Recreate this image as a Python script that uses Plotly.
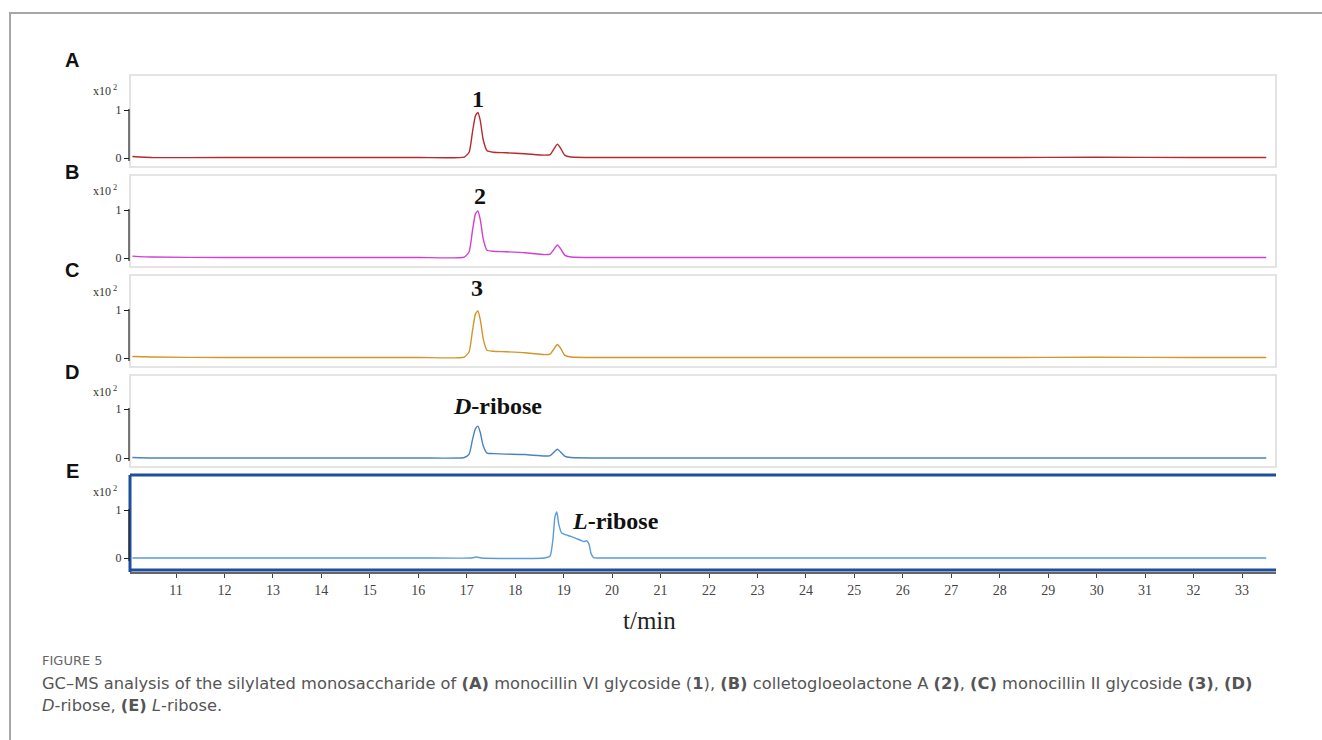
import plotly.graph_objects as go

W, H = 1322, 740

# ---------------- data (time in min, intensity in x10^2 counts) ----------------
t_A = [10.1, 10.5, 12, 14, 16, 16.95, 17.05, 17.12, 17.18, 17.23, 17.28, 17.34, 17.42, 17.55, 17.8, 18.2,
       18.6, 18.72, 18.8, 18.87, 18.94, 19.02, 19.15, 20, 22, 25, 28, 30, 32, 33.5]
i_A = [0.03, 0.01, 0.01, 0.01, 0.01, 0.02, 0.12, 0.55, 0.88, 0.95, 0.78, 0.38, 0.15, 0.12, 0.11, 0.09,
       0.06, 0.07, 0.19, 0.29, 0.2, 0.06, 0.02, 0.01, 0.01, 0.01, 0.01, 0.015, 0.01, 0.01]

t_B = [10.1, 10.5, 12, 14, 16, 16.95, 17.05, 17.12, 17.18, 17.23, 17.28, 17.34, 17.42, 17.55, 17.8, 18.2,
       18.6, 18.72, 18.8, 18.87, 18.94, 19.02, 19.15, 20, 22, 25, 28, 30, 32, 33.5]
i_B = [0.04, 0.02, 0.01, 0.01, 0.01, 0.02, 0.13, 0.58, 0.92, 0.98, 0.8, 0.4, 0.16, 0.14, 0.13, 0.11,
       0.07, 0.08, 0.18, 0.27, 0.19, 0.06, 0.02, 0.01, 0.01, 0.01, 0.01, 0.01, 0.01, 0.01]

t_C = [10.1, 10.5, 12, 14, 16, 16.95, 17.05, 17.12, 17.18, 17.23, 17.28, 17.34, 17.42, 17.55, 17.8, 18.2,
       18.6, 18.72, 18.8, 18.87, 18.94, 19.02, 19.15, 20, 22, 25, 28, 30, 32, 33.5]
i_C = [0.03, 0.02, 0.01, 0.01, 0.01, 0.02, 0.13, 0.58, 0.92, 0.98, 0.8, 0.4, 0.16, 0.14, 0.13, 0.11,
       0.07, 0.08, 0.19, 0.28, 0.2, 0.06, 0.02, 0.01, 0.01, 0.01, 0.01, 0.015, 0.01, 0.01]

t_D = [10.1, 10.5, 12, 14, 16, 16.95, 17.05, 17.12, 17.18, 17.23, 17.28, 17.34, 17.42, 17.55, 17.8, 18.2,
       18.6, 18.72, 18.8, 18.87, 18.94, 19.02, 19.15, 20, 22, 25, 28, 30, 32, 33.5]
i_D = [0.01, 0.0, 0.0, 0.0, 0.0, 0.01, 0.08, 0.38, 0.6, 0.65, 0.52, 0.25, 0.1, 0.09, 0.08, 0.07,
       0.04, 0.05, 0.12, 0.18, 0.12, 0.04, 0.01, 0.0, 0.0, 0.0, 0.0, 0.0, 0.0, 0.0]

t_E = [10.1, 12, 14, 16, 17.1, 17.2, 17.3, 18.6, 18.72, 18.78, 18.82, 18.86, 18.9, 18.96, 19.05, 19.15,
       19.25, 19.35, 19.42, 19.47, 19.52, 19.57, 19.62, 20, 22, 25, 28, 30, 32, 33.5]
i_E = [0.0, 0.0, 0.0, 0.0, 0.0, 0.02, 0.0, 0.0, 0.04, 0.4, 0.85, 0.96, 0.7, 0.52, 0.48, 0.45,
       0.41, 0.37, 0.34, 0.36, 0.3, 0.08, 0.01, 0.0, 0.0, 0.0, 0.0, 0.0, 0.0, 0.0]

series = [
    ("A", t_A, i_A, "#b8282c", "<b>1</b>"),
    ("B", t_B, i_B, "#d23fd2", "<b>2</b>"),
    ("C", t_C, i_C, "#d4952a", "<b>3</b>"),
    ("D", t_D, i_D, "#4a82c4", "<b><i>D</i>-ribose</b>"),
    ("E", t_E, i_E, "#5b9bd8", "<b><i>L</i>-ribose</b>"),
]

x_ticks = list(range(11, 34))

# ---------------- layout geometry (pixels) ----------------
# panel: top, bottom, zero-tick pixel, pixels per unit
panels = [(75, 167, 158, 48), (175, 267, 258, 48), (275, 367, 358, 48),
          (375, 467, 458, 49), (475, 572, 558, 48)]
label_pos = [(478, 99), (480, 196), (477, 288), (497, 406), (615, 521)]
letter_y = [60, 172, 270, 372, 471]

X0, X1 = 130, 1276
px_per_min = (1242 - 176) / 22.0
xr = [11 - (176 - X0) / px_per_min, 33 + (X1 - 1242) / px_per_min]


def px(x):
    return x / W


def py(y):
    return 1 - y / H


def ann(x, y, text, font, xanchor="center", yanchor="middle"):
    return dict(xref="paper", yref="paper", x=px(x), y=py(y), text=text, showarrow=False,
                xanchor=xanchor, yanchor=yanchor, font=font)


fig = go.Figure()
shapes = []
annotations = []
layout_axes = {}

for k, ((letter, t, v, col, lab), (top, bot, zero, ppu)) in enumerate(zip(series, panels)):
    n = k + 1
    xa = "x" if n == 1 else f"x{n}"
    ya = "y" if n == 1 else f"y{n}"
    fig.add_trace(go.Scatter(x=t, y=v, mode="lines", xaxis=xa, yaxis=ya,
                             line=dict(color=col, width=1.4, shape="spline", smoothing=0.5),
                             showlegend=False, hoverinfo="skip"))
    yr = [-(bot - zero) / ppu, (zero - top) / ppu]
    layout_axes[f"yaxis{'' if n == 1 else n}"] = dict(
        domain=[py(bot), py(top)], range=yr, anchor=xa,
        tickvals=[0, 1], ticktext=["0", "1"], ticks="outside", ticklen=5,
        tickcolor="#222", showgrid=False, zeroline=False, showline=False,
        tickfont=dict(family="Liberation Serif", size=12, color="#333"))
    xd = dict(domain=[px(X0), px(X1)], range=xr, anchor=ya, showgrid=False, zeroline=False)
    if n < 5:
        xd.update(visible=False, matches="x5")
    else:
        xd.update(showline=True, linecolor="#666", linewidth=1.5, ticks="outside", ticklen=4,
                  tickcolor="#444", tickvals=x_ticks,
                  tickfont=dict(family="Liberation Serif", size=14, color="#444"))
    layout_axes[f"xaxis{'' if n == 1 else n}"] = xd

    # panel frame
    if n < 5:
        shapes.append(dict(type="rect", xref="paper", yref="paper", x0=px(X0), x1=px(X1),
                           y0=py(bot), y1=py(top), line=dict(color="#e4e4e4", width=2), layer="below"))
    else:
        for (xa0, ya0, xa1, ya1) in [(X0, top, X1, top), (X0, bot - 2, X1, bot - 2), (X0, top, X0, bot)]:
            shapes.append(dict(type="line", xref="paper", yref="paper", x0=px(xa0), x1=px(xa1),
                               y0=py(ya0), y1=py(ya1), line=dict(color="#1f4e9c", width=3)))
    # y axis line between ticks
    shapes.append(dict(type="line", xref="paper", yref=ya, x0=px(X0 - 1), x1=px(X0 - 1),
                       y0=-0.06, y1=1.02, line=dict(color="#222", width=1.2)))

    annotations.append(ann(72, letter_y[k], f"<b>{letter}</b>",
                           dict(family="Liberation Sans", size=20, color="#111")))
    annotations.append(ann(105, top + 16, "x10<sup> 2</sup>",
                           dict(family="Liberation Serif", size=12, color="#333")))
    lx, ly = label_pos[k]
    annotations.append(ann(lx, ly, lab, dict(family="Liberation Serif", size=24, color="#111")))

# x-axis title
annotations.append(ann(649, 620, "t/min", dict(family="Liberation Serif", size=25, color="#222")))

# caption
annotations.append(ann(40, 660, "FIGURE 5", dict(family="DejaVu Sans", size=13, color="#666"),
                       xanchor="left"))
cap1 = ("GC–MS analysis of the silylated monosaccharide of <b>(A)</b> monocillin VI glycoside (<b>1</b>), "
        "<b>(B)</b> colletogloeolactone A <b>(2)</b>, <b>(C)</b> monocillin II glycoside <b>(3)</b>, <b>(D)</b>")
cap2 = "<i>D</i>-ribose, <b>(E)</b> <i>L</i>-ribose."
annotations.append(ann(40, 683, cap1, dict(family="DejaVu Sans", size=16.3, color="#555"), xanchor="left"))
annotations.append(ann(40, 705, cap2, dict(family="DejaVu Sans", size=16.3, color="#555"), xanchor="left"))

# outer card frame
shapes.append(dict(type="line", xref="paper", yref="paper", x0=px(9), x1=1, y0=py(13), y1=py(13),
                   line=dict(color="#a6a6a6", width=2)))
shapes.append(dict(type="line", xref="paper", yref="paper", x0=px(10), x1=px(10), y0=py(13), y1=0,
                   line=dict(color="#a6a6a6", width=2)))

fig.update_layout(width=W, height=H, margin=dict(l=0, r=0, t=0, b=0),
                  paper_bgcolor="white", plot_bgcolor="white",
                  shapes=shapes, annotations=annotations, **layout_axes)

fig.write_html("out.html", config={"displayModeBar": False},
               post_script="document.body.style.margin='0px';document.body.style.overflow='hidden';")
